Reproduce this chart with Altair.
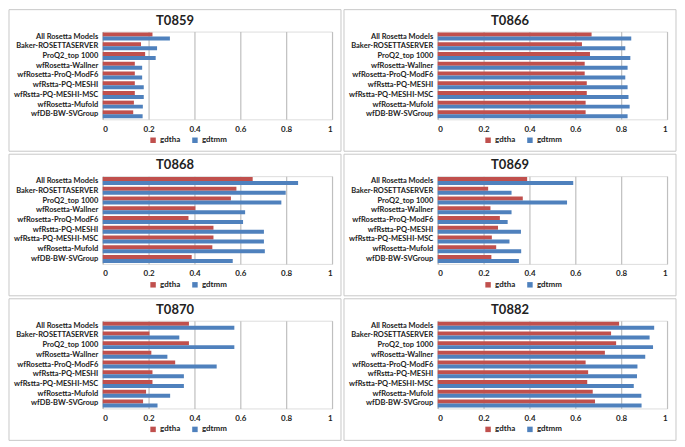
import altair as alt
import pandas as pd

models = ["All Rosetta Models", "Baker-ROSETTASERVER", "ProQ2_top 1000",
          "wfRosetta-Wallner", "wfRosetta-ProQ-ModF6", "wfRstta-PQ-MESHI",
          "wfRstta-PQ-MESHI-MSC", "wfRosetta-Mufold", "wfDB-BW-SVGroup"]
series = ["gdtha", "gdtmm"]
colors = ["#C0504D", "#4F81BD"]
targets = ["T0859", "T0866", "T0868", "T0869", "T0870", "T0882"]
ticks = [0, 0.2, 0.4, 0.6, 0.8, 1]

t0859_gdtha = [0.217, 0.167, 0.185, 0.140, 0.140, 0.140, 0.140, 0.136, 0.133]
t0859_gdtmm = [0.293, 0.237, 0.231, 0.172, 0.172, 0.179, 0.179, 0.175, 0.174]
t0866_gdtha = [0.671, 0.629, 0.664, 0.641, 0.641, 0.650, 0.650, 0.645, 0.645]
t0866_gdtmm = [0.844, 0.818, 0.840, 0.828, 0.818, 0.828, 0.832, 0.837, 0.828]
t0868_gdtha = [0.654, 0.583, 0.559, 0.404, 0.374, 0.483, 0.483, 0.478, 0.388]
t0868_gdtmm = [0.852, 0.798, 0.779, 0.621, 0.612, 0.703, 0.703, 0.707, 0.567]
t0869_gdtha = [0.390, 0.220, 0.371, 0.230, 0.271, 0.263, 0.236, 0.255, 0.234]
t0869_gdtmm = [0.591, 0.322, 0.564, 0.322, 0.305, 0.363, 0.313, 0.364, 0.354]
t0870_gdtha = [0.376, 0.204, 0.376, 0.212, 0.316, 0.217, 0.217, 0.189, 0.176]
t0870_gdtmm = [0.574, 0.334, 0.574, 0.282, 0.497, 0.354, 0.354, 0.294, 0.239]
t0882_gdtha = [0.791, 0.756, 0.778, 0.729, 0.645, 0.656, 0.652, 0.676, 0.686]
t0882_gdtmm = [0.944, 0.924, 0.939, 0.905, 0.871, 0.869, 0.855, 0.888, 0.889]

values = {
    "T0859": (t0859_gdtha, t0859_gdtmm),
    "T0866": (t0866_gdtha, t0866_gdtmm),
    "T0868": (t0868_gdtha, t0868_gdtmm),
    "T0869": (t0869_gdtha, t0869_gdtmm),
    "T0870": (t0870_gdtha, t0870_gdtmm),
    "T0882": (t0882_gdtha, t0882_gdtmm),
}

W, H = 230, 88
LEFT, RIGHT, TOP, BOTTOM = 94, 9, 22, 32
FONT = "Lato"


def panel(t):
    ha, mm = values[t]
    df = pd.DataFrame({
        "model": models * 2,
        "series": ["gdtha"] * len(models) + ["gdtmm"] * len(models),
        "value": ha + mm,
    })
    bars = alt.Chart(df).mark_bar().encode(
        y=alt.Y("model:N", sort=models, title=None,
                scale=alt.Scale(paddingInner=0.18, paddingOuter=0.1),
                axis=alt.Axis(labelFontWeight="bold", labelFontSize=7.5, labelFont=FONT,
                              labelColor="#222222", ticks=False, domainColor="#BFBFBF",
                              labelPadding=5, labelLimit=200)),
        yOffset=alt.YOffset("series:N", sort=series),
        x=alt.X("value:Q", title=None,
                scale=alt.Scale(domain=[0, 1], nice=False),
                axis=alt.Axis(values=ticks, format="~g", domain=False, ticks=False,
                              gridColor="#BFBFBF", gridWidth=1.2,
                              labelFontWeight="bold", labelFontSize=8, labelFont=FONT,
                              labelColor="#222222", labelPadding=6)),
        color=alt.Color("series:N",
                        scale=alt.Scale(domain=series, range=colors),
                        legend=alt.Legend(orient="none", direction="horizontal",
                                          legendX=(W + RIGHT - LEFT) / 2 - 26,
                                          legendY=H + 17,
                                          title=None, symbolType="square", symbolSize=30,
                                          symbolStrokeWidth=0, labelFontSize=8,
                                          labelFontWeight="bold", labelFont=FONT,
                                          labelColor="#222222", columnPadding=10,
                                          labelOffset=3)),
    )
    frame = alt.Chart(pd.DataFrame({"t": [t]})).mark_rect(
        fill="transparent", stroke="#C8C8C8", strokeWidth=1
    ).encode(
        x=alt.value(-LEFT), x2=alt.value(W + RIGHT),
        y=alt.value(-TOP), y2=alt.value(H + BOTTOM),
    )
    title = alt.Chart(pd.DataFrame({"t": [t]})).mark_text(
        font=FONT, fontSize=13, fontWeight="bold", color="#222222",
        baseline="middle", align="center"
    ).encode(
        text="t:N",
        x=alt.value((W + RIGHT - LEFT) / 2), y=alt.value(-TOP / 2),
    )
    return alt.layer(frame, bars, title).properties(width=W, height=H)


rows = []
for i in range(0, 6, 2):
    rows.append(
        alt.hconcat(panel(targets[i]), panel(targets[i + 1]), spacing=1)
        .resolve_scale(color="independent")
    )

chart = alt.vconcat(*rows, spacing=1).resolve_scale(color="independent").configure_view(
    strokeWidth=0
).configure(font=FONT, padding=0, background="white")

chart.save("out.html", embed_options={"renderer": "svg", "actions": False})
